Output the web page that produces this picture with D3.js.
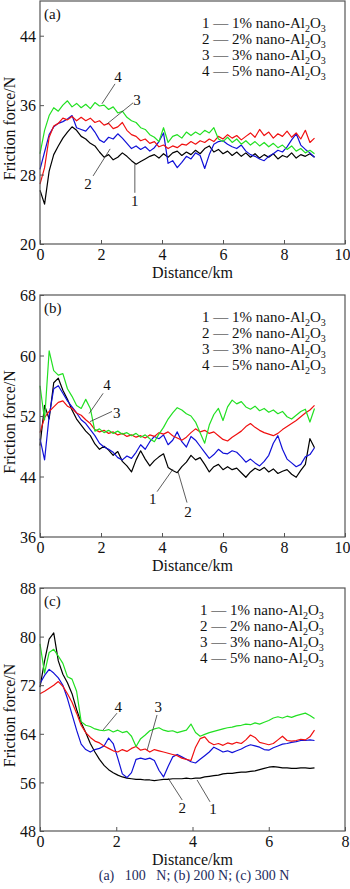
<!DOCTYPE html>
<html>
<head>
<meta charset="utf-8">
<script src="https://cdn.jsdelivr.net/npm/d3@7"></script>
<style>
  body { margin: 0; background: #fff; }
  svg text { font-family: "Liberation Serif", "DejaVu Serif", serif; fill: #111; }
</style>
</head>
<body>
<div id="chart"></div>
<script>
// curve ids, legend text, colours by curve 1..4
const curveIds = ["1", "2", "3", "4"];
const curvePct = ["1%", "2%", "3%", "5%"];
const curveColors = ["#000000", "#1010d8", "#f01010", "#22e022"];

// (a) 100 N, 0-9 km, one reading every 0.15 km
const distMaxA = 9;
const a1 = [26.2,24.6,28.4,30.3,31.3,32.2,32.9,33.5,33.1,32.4,32.1,31.6,31.3,30.6,30.0,30.3,29.7,30.0,30.5,30.1,29.6,29.2,29.5,29.8,30.1,30.3,29.9,30.4,30.0,30.5,30.7,30.2,30.6,30.3,30.8,30.4,31.0,31.3,30.6,30.9,30.4,30.7,30.2,30.6,30.1,30.5,30.0,30.4,29.9,30.3,30.0,30.4,29.8,30.2,30.0,30.5,29.9,30.3,30.1,30.4,30.0];
const a2 = [28.6,30.6,32.6,33.5,33.9,34.1,34.4,34.8,33.4,33.2,33.0,33.6,32.9,32.0,31.7,32.3,32.1,32.7,32.2,31.6,31.0,31.3,30.9,31.2,30.7,31.1,31.8,32.8,29.3,29.6,28.8,29.4,30.1,29.8,30.5,30.2,28.7,30.3,31.5,31.8,31.9,31.5,31.2,31.0,31.4,30.7,30.3,30.1,29.8,29.6,30.1,30.4,30.8,30.6,31.2,32.0,32.7,31.4,30.9,30.5,30.0];
const a3 = [26.9,28.8,32.3,33.6,33.9,34.5,34.3,34.7,34.2,34.6,34.2,34.5,34.0,34.2,33.7,33.9,33.3,33.5,34.0,33.1,32.6,32.4,31.9,32.1,31.6,31.8,31.2,31.4,31.0,31.3,31.1,31.5,31.4,31.8,31.5,31.9,31.7,32.1,31.8,32.4,32.1,32.6,32.2,32.5,32.0,32.4,32.8,32.3,33.2,32.5,32.9,32.2,32.7,32.4,33.0,32.3,32.8,32.1,33.1,31.7,32.2];
const a4 = [30.4,33.1,34.8,35.7,35.3,36.0,36.5,35.8,36.2,35.7,36.1,35.6,36.3,35.9,36.0,35.5,35.8,35.1,35.3,34.6,34.2,34.0,33.4,33.2,32.6,32.3,31.8,33.4,31.7,32.4,32.6,32.2,32.9,32.5,32.9,32.6,33.1,32.8,33.4,32.1,31.8,32.3,31.7,32.1,31.5,31.9,31.4,31.8,31.3,31.7,31.2,31.6,31.1,31.4,30.9,31.3,30.7,31.0,30.5,30.8,30.4];

// (b) 200 N, 0-9 km, every 0.15 km
const distMaxB = 9;
const b1 = [48.1,53.4,51.6,56.4,57.0,55.4,54.2,52.8,51.6,50.8,50.0,49.4,48.3,47.6,48.0,47.5,46.8,47.3,46.0,45.4,44.6,46.2,47.4,46.3,45.4,46.1,46.6,47.0,45.2,44.8,44.5,45.3,45.9,46.8,46.2,46.5,45.6,44.6,45.3,45.6,44.9,45.3,44.9,45.1,44.5,43.9,44.6,45.1,44.8,45.2,44.6,45.0,44.4,44.7,44.9,44.3,43.9,44.8,45.6,49.0,47.8];
const b2 = [49.0,46.2,52.0,55.6,56.0,55.0,54.0,53.2,52.4,51.5,51.0,50.2,49.4,48.4,47.9,47.6,47.2,46.5,46.2,46.7,46.4,47.2,48.2,47.6,48.6,49.3,49.0,49.5,48.2,48.8,49.9,48.6,47.9,49.3,48.8,48.0,47.2,46.4,46.9,47.6,47.1,47.0,47.4,47.2,46.6,45.9,46.3,45.8,45.4,46.0,46.8,48.4,49.4,47.6,46.3,45.8,45.3,45.6,46.6,46.9,47.8];
const b3 = [49.8,51.8,52.6,53.2,53.8,54.0,53.3,53.0,52.4,52.1,51.5,51.0,50.2,49.9,50.1,49.7,49.9,49.5,49.7,49.3,49.5,49.2,49.4,49.1,49.5,49.3,49.8,49.6,49.9,49.4,49.1,48.8,49.2,49.8,50.3,49.9,50.1,49.7,49.9,49.4,48.9,48.7,49.2,49.6,50.0,50.6,51.0,50.5,50.1,49.8,49.6,49.4,49.7,50.2,50.6,51.0,51.4,51.9,52.4,52.8,53.4];
const b4 = [56.0,51.5,60.6,58.0,57.4,57.6,55.6,54.6,53.4,53.0,54.2,53.0,50.0,50.3,49.8,50.1,49.7,50.0,49.6,49.8,49.4,49.7,49.2,49.5,49.0,48.6,49.6,50.5,51.6,52.4,53.1,52.8,52.3,52.0,51.2,49.8,48.4,50.8,52.2,53.0,51.4,53.2,54.1,53.6,53.9,53.2,52.9,53.3,52.7,53.0,52.5,52.8,52.3,52.6,51.9,51.6,52.1,52.6,52.9,51.2,53.0];

// (c) 300 N, 0-7.2 km, every 0.12 km
const distMaxC = 7.2;
const c1 = [71.7,76.0,79.6,80.6,76.0,73.8,72.4,70.6,68.0,65.8,64.2,62.4,61.0,59.8,58.8,58.1,57.6,57.2,56.9,56.7,56.6,56.5,56.5,56.4,56.4,56.3,56.4,56.5,56.5,56.6,56.6,56.6,56.7,56.6,56.7,56.7,56.9,57.0,57.1,57.2,57.4,57.5,57.5,57.6,57.7,57.7,57.8,57.9,58.1,58.3,58.5,58.6,58.5,58.4,58.4,58.3,58.3,58.4,58.4,58.3,58.4];
const c2 = [72.3,73.6,74.6,74.0,73.2,72.0,69.8,67.2,64.6,62.3,61.4,61.0,61.4,61.6,62.0,63.3,62.4,60.0,57.4,56.8,57.6,59.8,60.0,59.8,60.0,59.6,58.0,56.9,58.6,60.2,60.6,60.2,59.8,59.4,59.2,59.8,60.4,61.0,61.8,61.4,61.0,61.2,60.9,61.2,61.5,61.9,62.2,62.0,61.8,61.4,61.3,61.7,62.0,62.3,62.4,62.6,62.7,62.9,62.9,63.0,62.9];
const c3 = [70.6,71.0,71.5,72.0,72.6,71.8,70.6,69.2,67.4,65.4,64.2,63.4,62.8,62.5,62.0,61.6,61.2,61.0,61.4,61.1,61.6,61.9,61.3,61.5,61.0,61.4,61.2,61.0,60.8,60.6,60.4,60.0,59.8,59.6,61.8,63.2,63.5,62.6,62.2,62.4,62.1,62.5,62.3,62.6,62.4,63.0,63.8,63.4,62.6,62.4,62.2,62.4,63.0,63.6,62.9,62.8,62.9,63.1,63.0,63.5,64.6];
const c4 = [78.8,74.0,77.4,77.9,76.8,75.6,73.4,73.0,71.0,66.0,65.4,65.2,64.8,64.6,64.5,64.7,64.3,64.6,64.2,64.4,63.6,61.9,63.2,63.8,64.5,64.8,65.0,64.6,64.4,64.5,64.2,64.4,64.6,65.6,64.2,63.6,63.9,64.2,64.4,64.6,64.8,65.0,65.1,65.3,65.4,65.6,65.5,65.8,65.6,65.9,66.2,66.6,66.8,66.6,66.9,66.7,67.0,67.2,67.4,67.0,66.5];

// axis ticks
const xTicksAB = [0, 2, 4, 6, 8, 10];
const xTicksC = [0, 2, 4, 6, 8];
const yTicksA = [20, 28, 36, 44];
const yTicksB = [36, 44, 52, 60, 68];
const yTicksC = [48, 56, 64, 72, 80, 88];

// curve number labels: [id, textKm, textN, lineKm1, lineN1, lineKm2, lineN2]
const notesA = [["4", 2.56, 39.3, 2.46, 38.45, 2.03, 36.15], ["3", 3.18, 36.6, 3.05, 36.26, 2.2, 33.84],
                ["2", 1.57, 26.9, 1.74, 27.84, 2.3, 30.96], ["1", 3.11, 24.96, 3.11, 25.9, 3.11, 29.2]];
const notesB = [["4", 2.2, 56.1, 2.07, 55.0, 1.61, 52.33], ["3", 2.52, 52.47, 2.36, 52.6, 1.64, 51.26],
                ["1", 3.7, 41.1, 3.84, 42.0, 4.36, 44.97], ["2", 4.85, 39.35, 4.82, 40.55, 4.52, 44.7]];
const notesC = [["4", 2.05, 68.4, 2.02, 67.4, 1.65, 64.6], ["3", 3.1, 68.4, 3.07, 67.1, 2.81, 61.3],
                ["2", 3.73, 51.8, 3.73, 53.1, 3.36, 56.7], ["1", 4.54, 51.6, 4.46, 52.8, 4.12, 56.4]];

const W = 350, H = 889;
const serif = '"Liberation Serif", "DejaVu Serif", serif';
const svg = d3.select("#chart").append("svg")
  .attr("width", W).attr("height", H);

function drawPanel(p) {
  const left = 40, right = 345;
  const x = d3.scaleLinear().domain(p.xDomain).range([left, right]);
  const y = d3.scaleLinear().domain(p.yDomain).range([p.bottom, p.top]);
  const g = svg.append("g");

  // curves
  const line = d3.line()
    .x((d, i, arr) => x(i * p.distMax / (arr.length - 1)))
    .y(d => y(d));
  p.series.forEach((s, k) => {
    g.append("path")
      .attr("d", line(s))
      .attr("fill", "none")
      .attr("stroke", curveColors[k])
      .attr("stroke-width", 1.2)
      .attr("stroke-linejoin", "round");
  });

  // frame
  g.append("rect")
    .attr("x", left).attr("y", p.top)
    .attr("width", right - left).attr("height", p.bottom - p.top)
    .attr("fill", "none").attr("stroke", "#555").attr("stroke-width", 1.2);

  // axes with inward ticks
  const xAxis = g.append("g")
    .attr("transform", `translate(0,${p.bottom})`)
    .call(d3.axisBottom(x).tickValues(p.xTicks).tickSizeInner(-4).tickSizeOuter(0).tickPadding(5));
  const yAxis = g.append("g")
    .attr("transform", `translate(${left},0)`)
    .call(d3.axisLeft(y).tickValues(p.yTicks).tickSizeInner(-4).tickSizeOuter(0).tickPadding(4));
  [xAxis, yAxis].forEach(ax => {
    ax.attr("font-family", serif).attr("font-size", 16);
    ax.select(".domain").remove();
    ax.selectAll("line").attr("stroke", "#555");
    ax.selectAll("text").attr("fill", "#111");
  });
  xAxis.selectAll("text").attr("dy", "0.71em")
    .attr("dx", d => d >= 10 ? -3 : 0);
  yAxis.selectAll("text").attr("dy", "0.35em");

  // axis titles
  g.append("text")
    .attr("x", (left + right) / 2).attr("y", p.bottom + 34)
    .attr("text-anchor", "middle").style("font-size", "16px")
    .text("Distance/km");
  g.append("text")
    .attr("transform", `translate(15,${(p.top + p.bottom) / 2 + 6}) rotate(-90)`)
    .attr("text-anchor", "middle").style("font-size", "16px")
    .text("Friction force/N");

  // panel tag
  g.append("text")
    .attr("x", left + 4).attr("y", p.top + 18)
    .style("font-size", "15px").text(p.tag);

  // legend
  curveIds.forEach((id, k) => {
    const t = g.append("text")
      .attr("x", p.legendX).attr("y", p.top + 27 + k * 16)
      .style("font-size", "15px");
    t.append("tspan").text(`${id} \u2014 ${curvePct[k]} nano-Al`);
    t.append("tspan").attr("dy", 4).style("font-size", "10px").text("2");
    t.append("tspan").attr("dy", -4).text("O");
    t.append("tspan").attr("dy", 4).style("font-size", "10px").text("3");
  });

  // curve number labels with leader lines
  p.notes.forEach(n => {
    g.append("line")
      .attr("x1", x(n[3])).attr("y1", y(n[4]))
      .attr("x2", x(n[5])).attr("y2", y(n[6]))
      .attr("stroke", "#333").attr("stroke-width", 0.8);
    g.append("text")
      .attr("x", x(n[1])).attr("y", y(n[2]))
      .attr("text-anchor", "middle").attr("dy", "0.35em")
      .style("font-size", "15px").text(n[0]);
  });
}

drawPanel({ tag: "(a)", top: 1, bottom: 244, xDomain: [0, 10], yDomain: [20, 48],
  xTicks: xTicksAB, yTicks: yTicksA, distMax: distMaxA, series: [a1, a2, a3, a4],
  notes: notesA, legendX: 202 });
drawPanel({ tag: "(b)", top: 295, bottom: 537, xDomain: [0, 10], yDomain: [36, 68],
  xTicks: xTicksAB, yTicks: yTicksB, distMax: distMaxB, series: [b1, b2, b3, b4],
  notes: notesB, legendX: 202 });
drawPanel({ tag: "(c)", top: 588, bottom: 831, xDomain: [0, 8], yDomain: [48, 88],
  xTicks: xTicksC, yTicks: yTicksC, distMax: distMaxC, series: [c1, c2, c3, c4],
  notes: notesC, legendX: 200 });

// caption
svg.append("text")
  .attr("x", 194).attr("y", 880)
  .attr("text-anchor", "middle")
  .style("font-size", "14px").style("fill", "#1d2b5c")
  .attr("xml:space", "preserve")
  .text("(a)   100   N; (b) 200 N; (c) 300 N");
</script>
</body>
</html>
